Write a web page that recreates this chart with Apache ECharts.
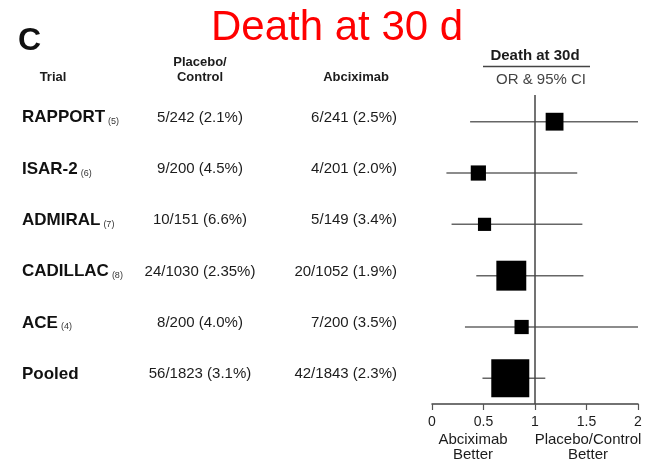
<!DOCTYPE html>
<html><head><meta charset="utf-8">
<script src="https://cdn.jsdelivr.net/npm/echarts@6/dist/echarts.min.js"></script>
<style>html,body{margin:0;padding:0;background:#fff}#c{width:654px;height:461px}</style>
</head><body><div id="c"></div>
<script>
// ---- data ----
const trials   = ['RAPPORT','ISAR-2','ADMIRAL','CADILLAC','ACE','Pooled'];
const refs     = ['(5)','(6)','(7)','(8)','(4)',''];
const placebo  = ['5/242 (2.1%)','9/200 (4.5%)','10/151 (6.6%)','24/1030 (2.35%)','8/200 (4.0%)','56/1823 (3.1%)'];
const abcix    = ['6/241 (2.5%)','4/201 (2.0%)','5/149 (3.4%)','20/1052 (1.9%)','7/200 (3.5%)','42/1843 (2.3%)'];
const oddsRatio = [1.19,0.45,0.51,0.77,0.87,0.76];
const ciLow     = [0.37,0.14,0.19,0.43,0.32,0.49];
const ciHigh    = [2.00,1.41,1.46,1.47,2.00,1.10];
const weight    = [22,16,12,62,14,100];
const xTicks    = ['0','0.5','1','1.5','2'];

const FF = '"Liberation Sans", Arial, sans-serif';
const TXT = '#1c1c1c';
const chart = echarts.init(document.getElementById('c'), null, {renderer:'canvas'});

const forestData = trials.map((t,i)=>[oddsRatio[i], ciLow[i], ciHigh[i], i, weight[i]]);
const tableData = trials.map((t,i)=>[0, i]);

chart.setOption({
  animation:false,
  backgroundColor:'#fff',
  grid:{left:432, right:16, top:95, bottom:57, containLabel:false},
  xAxis:{type:'value', min:0, max:2, interval:0.5, position:'bottom',
    axisLine:{show:true, onZero:false, lineStyle:{color:'#444', width:1.5}},
    axisTick:{show:true, inside:false, length:6, lineStyle:{color:'#555', width:1.2}},
    axisLabel:{color:TXT, fontSize:14, fontFamily:FF, margin:11,
      formatter:v=>xTicks[Math.round(v*2)]},
    splitLine:{show:false}},
  yAxis:{type:'value', inverse:true, min:-0.52, max:5.5, show:false},
  graphic:[
    {type:'text', x:18, y:41, style:{text:'C', fontSize:32, fontWeight:'bold', fontFamily:FF, fill:'#111', verticalAlign:'middle'}},
    {type:'text', x:211, y:28, style:{text:'Death at 30 d', fontSize:42, fontFamily:FF, fill:'#ff0000', verticalAlign:'middle'}},
    {type:'text', x:53, y:77, style:{text:'Trial', fontSize:13, fontWeight:'bold', fontFamily:FF, fill:TXT, align:'center', verticalAlign:'middle'}},
    {type:'text', x:200, y:62, style:{text:'Placebo/', fontSize:13, fontWeight:'bold', fontFamily:FF, fill:TXT, align:'center', verticalAlign:'middle'}},
    {type:'text', x:200, y:77, style:{text:'Control', fontSize:13, fontWeight:'bold', fontFamily:FF, fill:TXT, align:'center', verticalAlign:'middle'}},
    {type:'text', x:356, y:77, style:{text:'Abciximab', fontSize:13, fontWeight:'bold', fontFamily:FF, fill:TXT, align:'center', verticalAlign:'middle'}},
    {type:'text', x:535, y:56, style:{text:'Death at 30d', fontSize:15, fontWeight:'bold', fontFamily:FF, fill:TXT, align:'center', verticalAlign:'middle'}},
    {type:'line', shape:{x1:483, y1:66.5, x2:590, y2:66.5}, style:{stroke:'#444', lineWidth:1.5}},
    {type:'text', x:541, y:80, style:{text:'OR & 95% CI', fontSize:15, fontFamily:FF, fill:'#444', align:'center', verticalAlign:'middle'}},
    {type:'text', x:473, y:440, style:{text:'Abciximab', fontSize:15, fontFamily:FF, fill:TXT, align:'center', verticalAlign:'middle'}},
    {type:'text', x:473, y:455, style:{text:'Better', fontSize:15, fontFamily:FF, fill:TXT, align:'center', verticalAlign:'middle'}},
    {type:'text', x:588, y:440, style:{text:'Placebo/Control', fontSize:15, fontFamily:FF, fill:TXT, align:'center', verticalAlign:'middle'}},
    {type:'text', x:588, y:455, style:{text:'Better', fontSize:15, fontFamily:FF, fill:TXT, align:'center', verticalAlign:'middle'}},
    {type:'text', x:485, y:-6, style:{text:'Better', fontSize:14, fontFamily:FF, fill:'#555', align:'center', verticalAlign:'middle'}},
    {type:'text', x:600, y:-6, style:{text:'Better', fontSize:14, fontFamily:FF, fill:'#555', align:'center', verticalAlign:'middle'}}
  ],
  series:[
    {type:'custom', name:'forest', clip:false, data:forestData,
      encode:{x:[0,1,2], y:3},
      renderItem:(params, api)=>{
        const row = api.value(3);
        const pLo = api.coord([api.value(1), row]);
        const pHi = api.coord([api.value(2), row]);
        const pOr = api.coord([api.value(0), row]);
        const s = 3.8*Math.sqrt(api.value(4));
        return {type:'group', children:[
          {type:'line', shape:{x1:pLo[0], y1:pLo[1], x2:pHi[0], y2:pHi[1]}, style:{stroke:'#666', lineWidth:1.5}},
          {type:'rect', shape:{x:pOr[0]-s/2, y:pOr[1]-s/2, width:s, height:s}, style:{fill:'#000'}}
        ]};
      },
      markLine:{silent:true, symbol:'none', label:{show:false},
        lineStyle:{color:'#444', width:1.5, type:'solid'},
        data:[{xAxis:1}]},
      z:3
    },
    {type:'custom', name:'table', clip:false, data:tableData,
      encode:{x:0, y:1},
      renderItem:(params, api)=>{
        const i = params.dataIndex;
        const y = api.coord([0, api.value(1)])[1] - 4;
        const label = refs[i] ? `{n|${trials[i]}}{r|${refs[i]}}` : `{n|${trials[i]}}`;
        return {type:'group', children:[
          {type:'text', x:22, y:y, style:{text:label, verticalAlign:'middle',
            rich:{n:{fontSize:17, fontWeight:'bold', fontFamily:FF, fill:'#111'},
                  r:{fontSize:9, fontFamily:FF, fill:'#333', padding:[0,0,0,3], verticalAlign:'bottom'}}}},
          {type:'text', x:200, y:y, style:{text:placebo[i], fontSize:15, fontFamily:FF, fill:TXT, align:'center', verticalAlign:'middle'}},
          {type:'text', x:397, y:y, style:{text:abcix[i], fontSize:15, fontFamily:FF, fill:TXT, align:'right', verticalAlign:'middle'}}
        ]};
      }
    }
  ]
});
</script></body></html>
